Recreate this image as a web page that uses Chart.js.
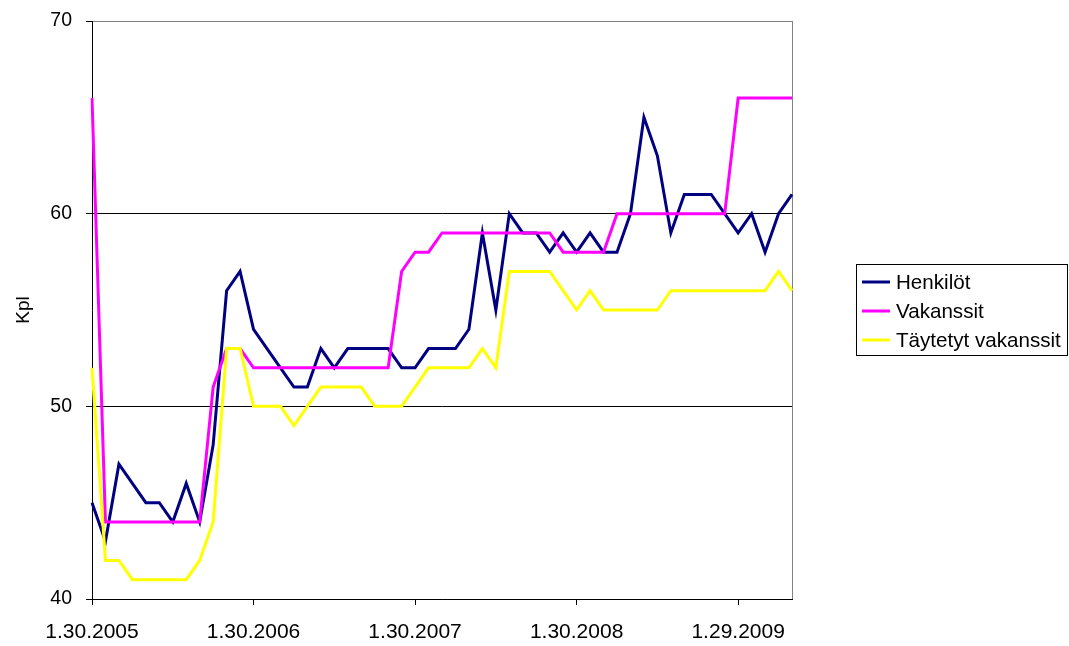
<!DOCTYPE html>
<html>
<head>
<meta charset="utf-8">
<script src="https://cdn.jsdelivr.net/npm/chart.js@4.4.1/dist/chart.umd.min.js"></script>
<style>
  html, body { margin: 0; padding: 0; background: #fff; }
  #wrap { width: 1069px; height: 646px; }
</style>
</head>
<body>
<div id="wrap"><canvas id="c" width="1069" height="646"></canvas></div>
<script>
// ---- Data ----
const categories = [
  "1.30.2005","2.28.2005","3.30.2005","4.30.2005","5.30.2005","6.30.2005","7.30.2005","8.30.2005","9.30.2005","10.30.2005","11.30.2005","12.30.2005",
  "1.30.2006","2.28.2006","3.30.2006","4.30.2006","5.30.2006","6.30.2006","7.30.2006","8.30.2006","9.30.2006","10.30.2006","11.30.2006","12.30.2006",
  "1.30.2007","2.28.2007","3.30.2007","4.30.2007","5.30.2007","6.30.2007","7.30.2007","8.30.2007","9.30.2007","10.30.2007","11.30.2007","12.30.2007",
  "1.30.2008","2.29.2008","3.30.2008","4.30.2008","5.30.2008","6.30.2008","7.30.2008","8.30.2008","9.30.2008","10.30.2008","11.30.2008","12.30.2008",
  "1.29.2009","2.28.2009","3.29.2009","4.29.2009","5.29.2009"
];
const seriesNames = ["Henkilöt", "Vakanssit", "Täytetyt vakanssit"];
const henkilot = [45,43,47,46,45,45,44,46,44,48,56,57,
                  54,53,52,51,51,53,52,53,53,53,53,52,
                  52,53,53,53,54,59,55,60,59,59,58,59,
                  58,59,58,58,60,65,63,59,61,61,61,60,
                  59,60,58,60,61];
const vakanssit = [66,44,44,44,44,44,44,44,44,51,53,53,
                   52,52,52,52,52,52,52,52,52,52,52,57,
                   58,58,59,59,59,59,59,59,59,59,59,58,
                   58,58,58,60,60,60,60,60,60,60,60,60,
                   66,66,66,66,66];
const taytetyt = [52,42,42,41,41,41,41,41,42,44,53,53,
                  50,50,50,49,50,51,51,51,51,50,50,50,
                  51,52,52,52,52,53,52,57,57,57,57,56,
                  55,56,55,55,55,55,55,56,56,56,56,56,
                  56,56,56,57,56];
const yTicks = [40, 50, 60, 70];
const majorEvery = 12;
const yTitle = "Kpl";

const colors = ["#000080", "#FF00FF", "#FFFF00"];
const FONT = "'Liberation Sans', Arial, sans-serif";

const frame = {
  id: 'frame',
  beforeDatasetsDraw(chart) {
    const a = chart.chartArea, ctx = chart.ctx;
    ctx.save();
    ctx.strokeStyle = '#808080';
    ctx.lineWidth = 1;
    ctx.beginPath();
    ctx.moveTo(Math.round(a.right) + 0.5, a.top);
    ctx.lineTo(Math.round(a.right) + 0.5, a.bottom);
    ctx.stroke();
    ctx.restore();
  },
  afterDraw(chart) {
    const ctx = chart.ctx;
    ctx.save();
    ctx.strokeStyle = '#000';
    ctx.lineWidth = 1;
    ctx.strokeRect(856.5, 264.5, 211, 91);
    const rows = [282, 311, 340];
    chart.data.datasets.forEach((ds, i) => {
      ctx.strokeStyle = ds.borderColor;
      ctx.lineWidth = 3;
      ctx.beginPath();
      ctx.moveTo(862, rows[i]);
      ctx.lineTo(890, rows[i]);
      ctx.stroke();
      ctx.fillStyle = '#000';
      ctx.font = "20.6px " + FONT;
      ctx.textBaseline = 'middle';
      ctx.textAlign = 'left';
      ctx.fillText(ds.label, 896, rows[i] + 1);
    });
    ctx.restore();
  }
};

new Chart(document.getElementById('c'), {
  type: 'line',
  data: {
    labels: categories,
    datasets: [
      { label: seriesNames[0], data: henkilot, borderColor: colors[0], backgroundColor: colors[0], order: 2 },
      { label: seriesNames[1], data: vakanssit, borderColor: colors[1], backgroundColor: colors[1], order: 1 },
      { label: seriesNames[2], data: taytetyt, borderColor: colors[2], backgroundColor: colors[2], order: 0 }
    ]
  },
  options: {
    responsive: false,
    animation: false,
    devicePixelRatio: 1,
    layout: { padding: { left: 0, top: 21, right: 277, bottom: 0 } },
    elements: {
      line: { borderWidth: 3, tension: 0, borderJoinStyle: 'miter', borderCapStyle: 'butt' },
      point: { radius: 0, hoverRadius: 0 }
    },
    plugins: { legend: { display: false }, tooltip: { enabled: false } },
    scales: {
      x: {
        type: 'category',
        offset: false,
        afterFit(s) { s.height = 47; },
        grid: { drawOnChartArea: false, drawTicks: true, tickLength: 6, color: '#000', tickColor: '#000' },
        border: { color: '#000', width: 1 },
        ticks: {
          autoSkip: false, maxRotation: 0, minRotation: 0,
          padding: 15, color: '#000',
          font: { family: FONT, size: 21 },
          callback(v, i) { return i % majorEvery === 0 ? categories[i] : null; }
        }
      },
      y: {
        min: yTicks[0], max: yTicks[yTicks.length - 1],
        afterFit(s) { s.width = 92; s.paddingTop = 0; s.paddingBottom = 0; },
        afterBuildTicks(s) { s.ticks = yTicks.map(v => ({ value: v })); },
        grid: {
          drawTicks: true, tickLength: 6,
          color: (c) => c.tick && c.tick.value === yTicks[yTicks.length - 1] ? '#808080' : '#000',
          tickColor: '#000'
        },
        border: { color: '#000', width: 1 },
        ticks: { padding: 14, color: '#000', font: { family: FONT, size: 19.5 } },
        title: { display: true, text: yTitle, color: '#000', font: { family: FONT, size: 19 }, padding: { top: 12, bottom: 0 } }
      }
    }
  },
  plugins: [frame]
});
</script>
</body>
</html>
